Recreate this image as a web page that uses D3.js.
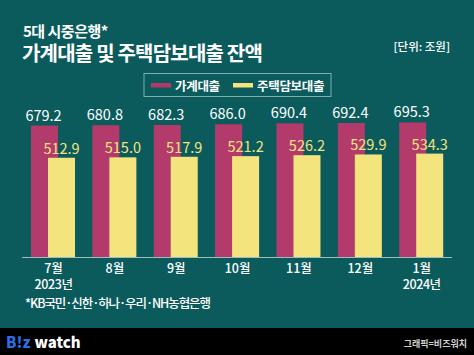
<!DOCTYPE html>
<html><head><meta charset="utf-8">
<script src="https://cdn.jsdelivr.net/npm/d3@7"></script>
<style>
html,body{margin:0;padding:0;background:#0b5b5d;}
svg{display:block;}
text{font-family:"Noto Sans CJK KR","Noto Sans",sans-serif;}
</style></head><body>
<svg id="c" width="474" height="355"></svg>
<script>
const months = ["7월","8월","9월","10월","11월","12월","1월"];
const years = ["2023년","","","","","","2024년"];
const household = [679.2,680.8,682.3,686.0,690.4,692.4,695.3];
const mortgage = [512.9,515.0,517.9,521.2,526.2,529.9,534.3];
const seriesNames = ["가계대출","주택담보대출"];

const W=474,H=355;
const svg=d3.select("#c");
const colors=["#b23b6b","#f4e47e"];
svg.append("rect").attr("width",W).attr("height",H).attr("fill","#0b5b5d");
svg.append("rect").attr("x",0).attr("y",328).attr("width",W).attr("height",H-328).attr("fill","#000");

// titles
svg.append("text").attr("x",23).attr("y",37).attr("fill","#fff").attr("font-size",15).attr("font-weight",700).attr("letter-spacing",-0.5).text("5대 시중은행*");
svg.append("text").attr("x",22).attr("y",61).attr("fill","#fff").attr("font-size",20).attr("font-weight",700).attr("letter-spacing",-0.8).text("가계대출 및 주택담보대출 잔액");
svg.append("text").attr("x",450).attr("y",51).attr("text-anchor","end").attr("fill","#fff").attr("font-size",11.5).attr("font-weight",500).text("[단위: 조원]");

// scales
const x=d3.scalePoint().domain(months).range([53,421.2]);
const y=d3.scaleLinear().domain([0,800]).range([257,102.2]);
const barW=27, offset=17;

const g=svg.append("g");
months.forEach((m,i)=>{
  const cx=x(m);
  const x1=cx-(barW+offset)/2, x2=x1+offset;
  g.append("rect").attr("x",x1).attr("y",y(household[i])).attr("width",barW).attr("height",y(0)-y(household[i])).attr("fill",colors[0]);
  g.append("rect").attr("x",x2).attr("y",y(mortgage[i])).attr("width",barW).attr("height",y(0)-y(mortgage[i])).attr("fill",colors[1]);
  g.append("text").attr("x",x1+barW/2-1).attr("y",y(household[i])-5).attr("text-anchor","middle").attr("fill","#fff").attr("font-family","'Liberation Serif',serif").attr("font-size",14.5).text(household[i].toFixed(1));
  g.append("text").attr("x",x2+barW/2).attr("y",y(mortgage[i])-4).attr("text-anchor","middle").attr("fill",colors[1]).attr("font-family","'Liberation Serif',serif").attr("font-size",14.5).text(mortgage[i].toFixed(1));
});

// axis
const ax=d3.axisBottom(x).tickSize(0).tickPadding(0);
const axg=svg.append("g").attr("transform","translate(0,257)").call(ax);
axg.select(".domain").attr("stroke","#9cc0c0").attr("stroke-width",1).attr("d","M22,0.5H452");
axg.selectAll(".tick text").attr("fill","#fff").attr("font-size",12.5).attr("font-weight",500)
  .attr("font-family","'Noto Sans CJK KR',sans-serif").attr("dy",0).attr("y",16);
axg.selectAll(".tick").each(function(d,i){
  if(years[i]) d3.select(this).append("text").attr("y",31.5).attr("text-anchor","middle").attr("fill","#fff").attr("font-size",12.5).attr("font-weight",500).attr("letter-spacing",-0.4).text(years[i]);
});

// legend
const lg=svg.append("g");
lg.append("rect").attr("x",144).attr("y",73.5).attr("width",187).attr("height",23).attr("fill","none").attr("stroke","#80aeac").attr("stroke-width",1);
const lx=[151,233];
seriesNames.forEach((n,i)=>{
  lg.append("rect").attr("x",lx[i]).attr("y",83).attr("width",20).attr("height",4.5).attr("fill",colors[i]);
  lg.append("text").attr("x",lx[i]+24).attr("y",90.5).attr("fill","#fff").attr("font-size",12.5).attr("font-weight",700).attr("letter-spacing",-0.3).text(n);
});

// footnote
svg.append("text").attr("x",25).attr("y",308).attr("fill","#fff").attr("font-size",12.5).attr("font-weight",500)
  .attr("textLength",186).attr("lengthAdjust","spacing").text("*KB국민·신한·하나·우리·NH농협은행");

// logo
const logo=svg.append("text").attr("x",6).attr("y",348).attr("font-size",15).attr("font-weight",900).attr("font-family","'Noto Sans',sans-serif");
logo.append("tspan").attr("fill","#2a6fe8").text("B!z");
logo.append("tspan").attr("fill","#fff").attr("dx",4).text("watch");
svg.append("text").attr("x",467).attr("y",347).attr("text-anchor","end").attr("fill","#d0d0d0").attr("font-size",9).attr("font-weight",700).text("그래픽=비즈워치");
</script>
</body></html>
